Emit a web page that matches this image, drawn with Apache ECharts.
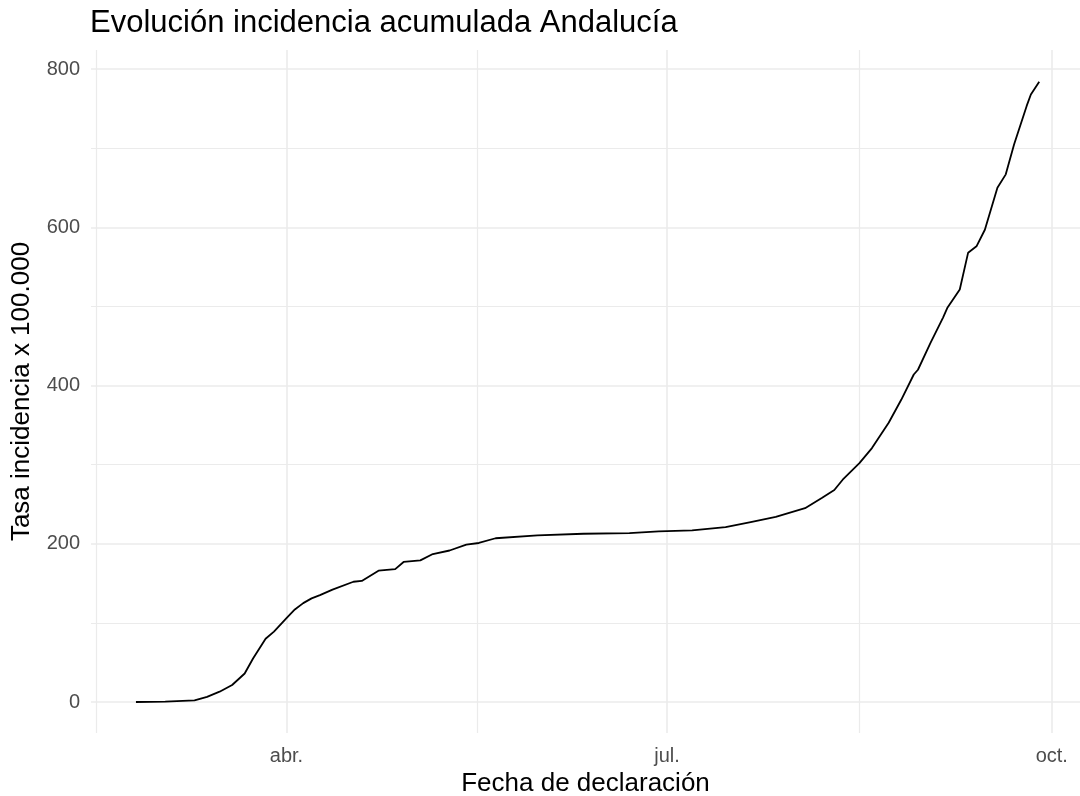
<!DOCTYPE html>
<html><head><meta charset="utf-8">
<script src="https://cdn.jsdelivr.net/npm/echarts@6/dist/echarts.min.js"></script>
<style>html,body{margin:0;padding:0;background:#fff}#c{width:1080px;height:796px}</style>
</head><body><div id="c"></div>
<script>
const dates = ['2020-02-25','2020-03-03','2020-03-10','2020-03-13','2020-03-16','2020-03-19','2020-03-22','2020-03-24','2020-03-27','2020-03-29',
  '2020-04-01','2020-04-03','2020-04-05','2020-04-07','2020-04-09','2020-04-12','2020-04-17','2020-04-19','2020-04-23','2020-04-27','2020-04-29',
  '2020-05-03','2020-05-06','2020-05-10','2020-05-14','2020-05-17','2020-05-21','2020-05-31',
  '2020-06-11','2020-06-22','2020-06-29',
  '2020-07-07','2020-07-15','2020-07-21','2020-07-27',
  '2020-08-03','2020-08-07','2020-08-10','2020-08-12','2020-08-16','2020-08-19','2020-08-23','2020-08-26','2020-08-29','2020-08-30',
  '2020-09-02','2020-09-05','2020-09-06','2020-09-09','2020-09-11','2020-09-13','2020-09-15','2020-09-18','2020-09-20','2020-09-22','2020-09-25','2020-09-26','2020-09-28'];
const values = [0,0.4,2,6.5,13,21.5,36,55,80,89,
  106,117,125,131,135,142,152,153,166,168,177,
  179,187,191.5,199,201,207,210.5,
  212.7,213.5,215.6,
  217,221,227.5,234,
  245,258,268,281,302,321,353,382,414,420,
  454,486,498,521.5,568,576,597,650,667,705,753.5,768,784];
const xMajorTicks = ['2020-04-01','2020-07-01','2020-10-01'];
const xMajorLabels = ['abr.','jul.','oct.'];
const xMinorTicks = ['2020-02-15 12:00','2020-05-16 12:00','2020-08-16'];
const yMajorTicks = [0,200,400,600,800];
const yMinorTicks = [100,300,500,700];

const P = s => +echarts.time.parse(s);
const majorX = xMajorTicks.map(P);
const minorX = xMinorTicks.map(P);
const xMin = P('2020-02-14 06:00'), xMax = P('2020-10-07 18:00');
const yMin = -39.2, yMax = 824.2;
const gridColor = '#EBEBEB';
const font = 'Liberation Sans, Arial, sans-serif';

const chart = echarts.init(document.getElementById('c'), null, {renderer:'canvas'});
chart.setOption({
  animation:false,
  backgroundColor:'#fff',
  title:{text:'Evolución incidencia acumulada Andalucía', left:90, top:8, padding:0,
    textStyle:{fontFamily:font, fontSize:31, fontWeight:'normal', color:'#000'}},
  grid:{left:91, right:0, top:50, bottom:63, containLabel:false, outerBoundsMode:'none'},
  xAxis:[{
    type:'value', min:xMin, max:xMax,
    name:'Fecha de declaración', nameLocation:'middle', nameGap:37,
    nameTextStyle:{fontFamily:font, fontSize:26, color:'#000'},
    axisLine:{show:false, onZero:false}, axisTick:{show:false, customValues:majorX},
    axisLabel:{customValues:majorX, margin:13, fontFamily:font, fontSize:20, color:'#4D4D4D',
      formatter:(v)=>{let b=0,bd=Infinity; majorX.forEach((m,i)=>{const d=Math.abs(m-v); if(d<bd){bd=d;b=i;}}); return xMajorLabels[b];}},
    splitLine:{show:true, lineStyle:{color:gridColor, width:1.6}}
  },{
    type:'value', min:xMin, max:xMax, position:'bottom',
    axisLine:{show:false, onZero:false}, axisTick:{show:false, customValues:minorX},
    axisLabel:{show:false, customValues:minorX},
    splitLine:{show:true, lineStyle:{color:gridColor, width:1.2}}
  }],
  yAxis:[{
    type:'value', min:yMin, max:yMax,
    name:'Tasa incidencia x 100.000', nameLocation:'middle', nameGap:56, nameRotate:90,
    nameTextStyle:{fontFamily:font, fontSize:26, color:'#000'},
    axisLine:{show:false, onZero:false}, axisTick:{show:false, customValues:yMajorTicks},
    axisLabel:{customValues:yMajorTicks, margin:11, fontFamily:font, fontSize:20, color:'#4D4D4D'},
    splitLine:{show:true, lineStyle:{color:gridColor, width:1.6}}
  },{
    type:'value', min:yMin, max:yMax, position:'left',
    axisLine:{show:false, onZero:false}, axisTick:{show:false, customValues:yMinorTicks},
    axisLabel:{show:false, customValues:yMinorTicks},
    splitLine:{show:true, lineStyle:{color:gridColor, width:1.2}}
  }],
  series:[{
    type:'line', xAxisIndex:0, yAxisIndex:0,
    data: dates.map((d,i)=>[P(d), values[i]]),
    showSymbol:false, symbol:'none',
    lineStyle:{color:'#000', width:1.8}, z:10
  }]
});
</script></body></html>
